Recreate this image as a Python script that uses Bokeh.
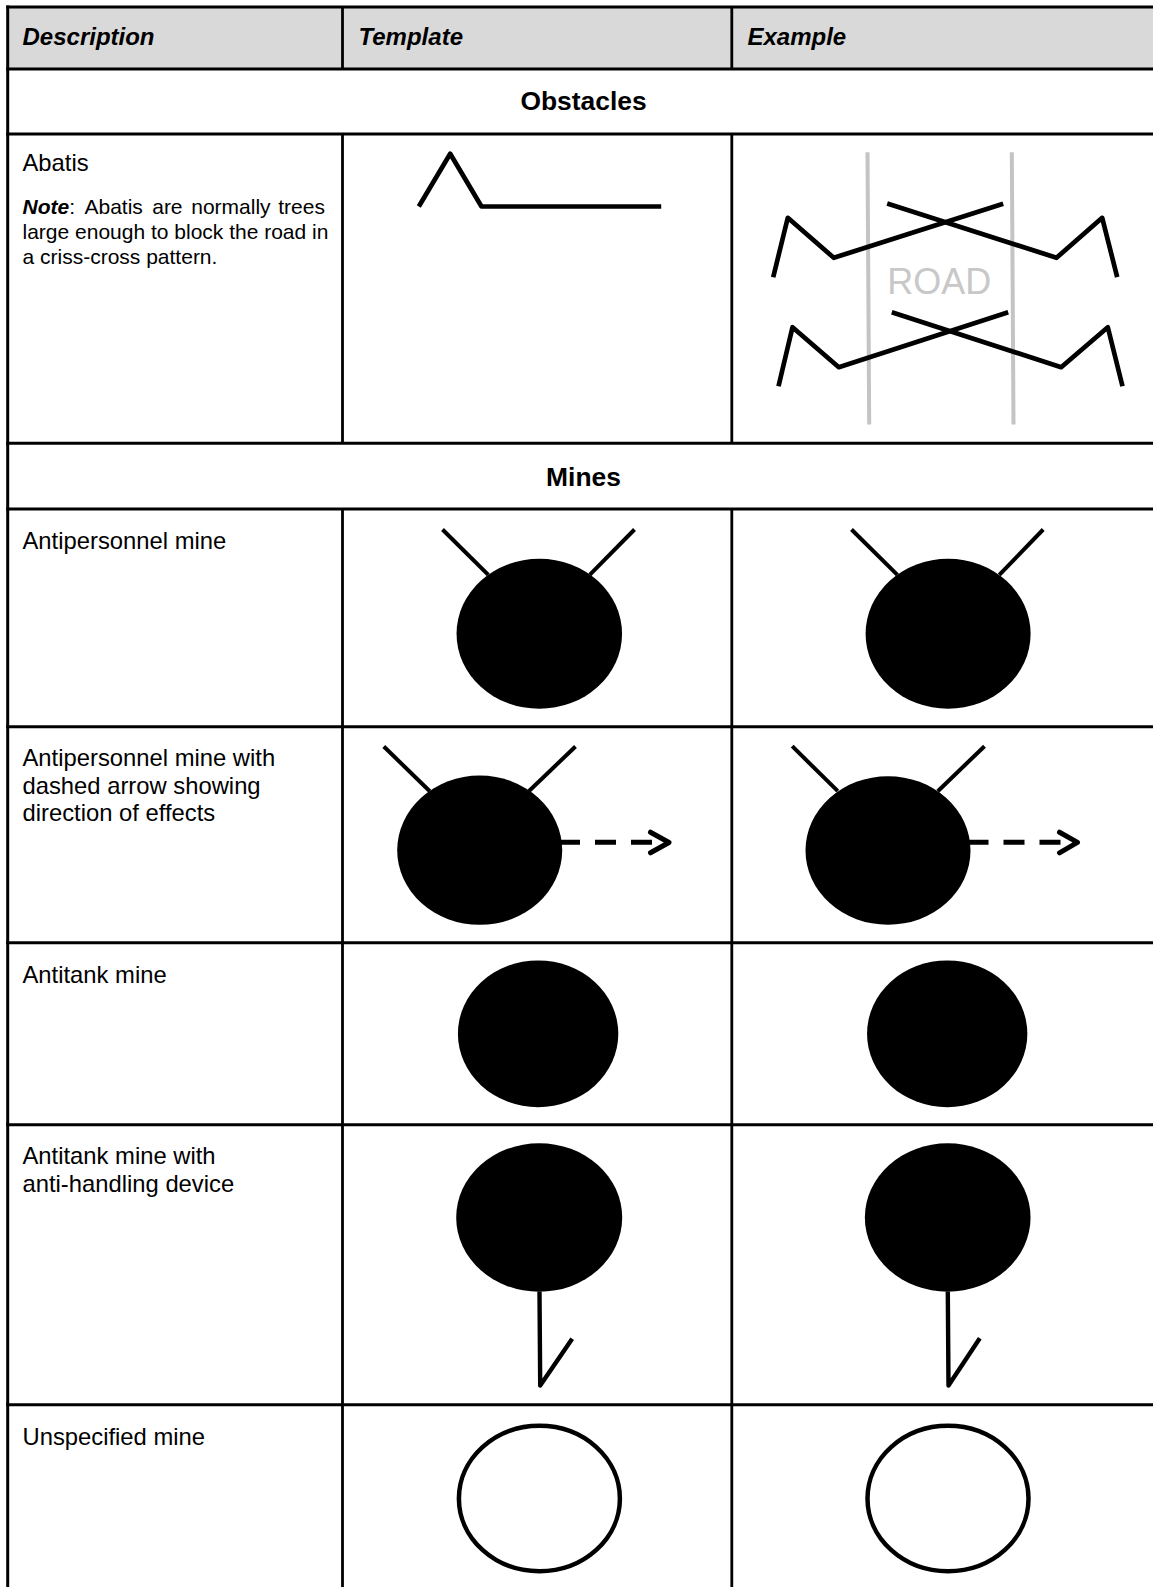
from bokeh.embed import file_html
from bokeh.resources import INLINE
from bokeh.plotting import figure
from bokeh.models import Range1d
from bokeh.core.properties import value

# ---- table structure (page pixels) ----
row_lines = [6.5, 68.5, 133.5, 442.7, 508.5, 726.3, 942.3, 1124.3, 1404.2]
col_left = 7.2
col_a = 342.0
col_b = 731.3
col_spans = [(6.5, 68.5), (133.5, 442.7), (508.5, 1587)]
page_w, page_h = 1153, 1587

# ---- texts ----
header_labels = ["Description", "Template", "Example"]
header_x = [22, 358, 747]
header_y = [46, 46, 46]
section_labels = ["Obstacles", "Mines"]
section_x = [583, 583]
section_y = [111.5, 487]
desc_labels = ["Abatis", "Antipersonnel mine", "Antipersonnel mine with", "dashed arrow showing",
               "direction of effects", "Antitank mine", "Antitank mine with",
               "anti-handling device", "Unspecified mine"]
desc_x = [22] * 9
desc_y = [171.5, 549.3, 766, 794, 821, 983, 1164.5, 1192, 1445]
note_bold = ["Note"]
note_bold_x = [22]
note_bold_y = [214.3]
note_labels = [":", "Abatis", "are", "normally", "trees", "large enough to block the road in",
               "a criss-cross pattern."]
note_x = [68.7, 84, 151.7, 190.7, 277.7, 22, 22]
note_y = [214.3, 214.3, 214.3, 214.3, 214.3, 239.3, 264.3]

# ---- abatis symbols ----
abatis_tpl_x = [418.3, 449.7, 481, 660.7]
abatis_tpl_y = [206, 153.3, 206, 206]
abatis_ex_x = [[772.7, 787.3, 833.3, 1002.7], [1116.7, 1101.7, 1056, 886.7],
               [778, 792, 838.3, 1007.7], [1122, 1107.3, 1060.7, 891.3]]
abatis_ex_y = [[276.7, 217.3, 257.3, 203.3], [276.7, 217.3, 257.3, 203],
               [385.7, 326.7, 366.7, 311.7], [385.7, 326.7, 366.7, 311.7]]
road_x = [[867, 868.7], [1011.3, 1013]]
road_y = [[151.7, 424], [151.7, 424]]
road_label = ["ROAD"]
road_label_x = [938.7]
road_label_y = [295]

# ---- mines: filled ellipses (cx, cy, width, height) ----
mine_cx = [538.8, 947.6, 479.2, 887.5, 537.6, 946.7, 538.7, 947.2]
mine_cy = [633.3, 633.3, 849.7, 850, 1033.3, 1033.3, 1217, 1217]
mine_w = [165.5, 165, 165, 165, 160.4, 160.3, 166, 165.7]
mine_h = [150, 150, 149.4, 148.6, 146.7, 146.7, 148.6, 148.6]
# unspecified mine: open ellipses
open_cx = [538.9, 947.5]
open_cy = [1498, 1498]
open_w = [161, 161]
open_h = [145.4, 145.4]

# ---- mine fittings ----
prong_x = [[442, 487.8], [634, 589.2], [851, 896.9], [1042.7, 998.8],
           [383.3, 429.3], [575, 528.3], [791.7, 837.3], [984, 937.3]]
prong_y = [[529, 574.3], [529, 574.3], [529, 574.3], [529, 574.3],
           [746, 790.7], [746, 790.7], [745.7, 790.7], [745.7, 790.7]]
shaft_x = [[558.5, 652], [967, 1060.5]]
shaft_y = [[841.7, 841.7], [841.7, 841.7]]
head_x = [[650, 668.5, 650], [1059, 1077, 1059]]
head_y = [[831.7, 842, 852.3], [831.7, 841.9, 852.3]]
device_x = [[539, 539.7, 571.7], [947.3, 948, 979.3]]
device_y = [[1291, 1385, 1338.3], [1291, 1385, 1337.7]]

p = figure(width=page_w, height=page_h, x_range=Range1d(0, page_w), y_range=Range1d(page_h, 0),
           output_backend="svg", toolbar_location=None, min_border=0,
           x_axis_type=None, y_axis_type=None)
p.grid.visible = False
p.outline_line_color = None
p.background_fill_color = "white"

# header band
p.quad(left=[col_left], right=[page_w], top=[row_lines[0]], bottom=[row_lines[1]],
       fill_color="#d9d9d9", line_color=None)

# rules
p.multi_line([[col_left - 1.5, page_w] for _ in row_lines], [[y, y] for y in row_lines],
             line_color="black", line_width=3)
p.multi_line([[col_left, col_left]], [[row_lines[0] - 1.5, page_h]], line_color="black", line_width=3)
vx, vy = [], []
for a, b in col_spans:
    for c in (col_a, col_b):
        vx.append([c, c])
        vy.append([a, b])
p.multi_line(vx, vy, line_color="black", line_width=2.8)

FONT = value("Liberation Sans")
p.text(header_x, header_y, text=header_labels, text_font=FONT, text_font_size="24px",
       text_font_style="bold italic", text_color="black", text_baseline="alphabetic", y_offset=-9.6)
p.text(section_x, section_y, text=section_labels, text_font=FONT, text_font_size="26.4px",
       text_font_style="bold", text_color="black", text_align="center", text_baseline="alphabetic", y_offset=-10.6)
p.text(desc_x, desc_y, text=desc_labels, text_font=FONT, text_font_size="23.8px",
       text_color="black", text_baseline="alphabetic", y_offset=-9.5)
p.text(note_bold_x, note_bold_y, text=note_bold, text_font=FONT, text_font_size="21px",
       text_font_style="bold italic", text_color="black", text_baseline="alphabetic", y_offset=-8.4)
p.text(note_x, note_y, text=note_labels, text_font=FONT, text_font_size="21px",
       text_color="black", text_baseline="alphabetic", y_offset=-8.4)

# road underlay
p.multi_line(road_x, road_y, line_color="#c4c4c4", line_width=4)
p.text(road_label_x, road_label_y, text=road_label, text_font=FONT, text_font_size="36px",
       text_color="#c8c8c8", text_align="center", text_baseline="alphabetic", y_offset=-14.4)

# abatis
p.line(abatis_tpl_x, abatis_tpl_y, line_color="black", line_width=4.7, line_join="round")
p.multi_line(abatis_ex_x, abatis_ex_y, line_color="black", line_width=4.7, line_join="round")

# mines
p.multi_line(prong_x, prong_y, line_color="black", line_width=4)
p.ellipse(mine_cx, mine_cy, width=mine_w, height=mine_h, fill_color="black", line_color=None)
p.ellipse(open_cx, open_cy, width=open_w, height=open_h, fill_color=None, line_color="black", line_width=4.5)
p.multi_line(shaft_x, shaft_y, line_color="black", line_width=5, line_dash="21 15")
p.multi_line(head_x, head_y, line_color="black", line_width=5, line_join="round", line_cap="round")
p.multi_line(device_x, device_y, line_color="black", line_width=4.4, line_join="round")

open("out.html", "w").write(file_html(p, INLINE))
